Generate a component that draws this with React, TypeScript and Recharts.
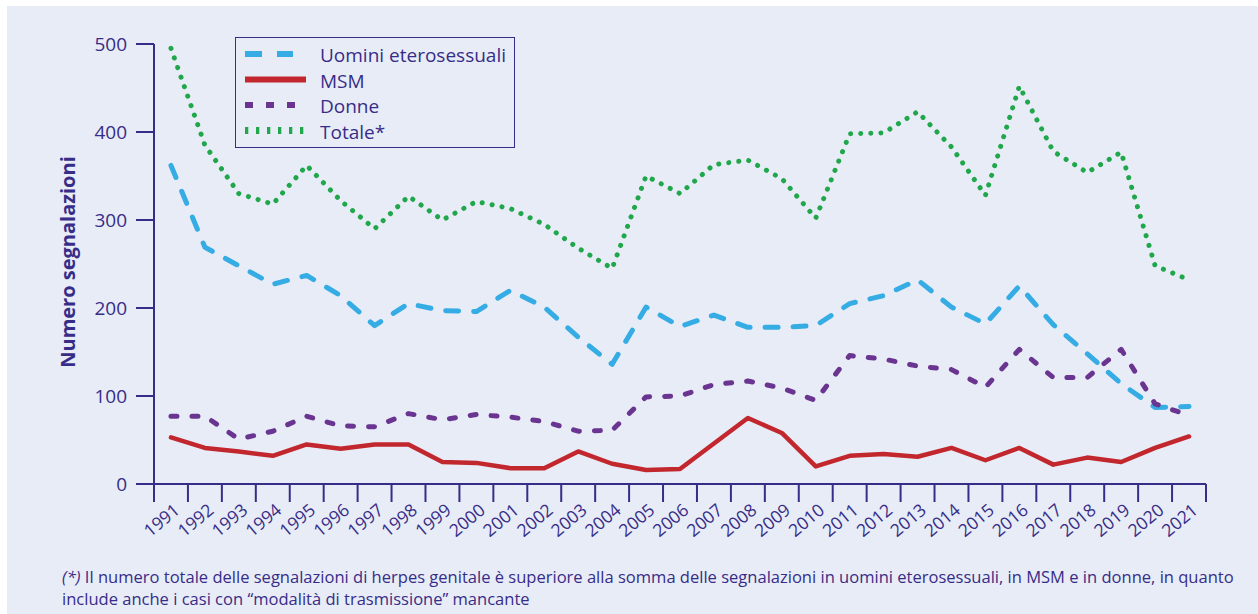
import React from 'react';
import { LineChart, Line, XAxis, YAxis, Legend } from 'recharts';

const years = [1991, 1992, 1993, 1994, 1995, 1996, 1997, 1998, 1999, 2000, 2001, 2002, 2003, 2004, 2005, 2006, 2007, 2008, 2009, 2010, 2011, 2012, 2013, 2014, 2015, 2016, 2017, 2018, 2019, 2020, 2021];
const uomini = [362, 269, 248, 227, 237, 214, 180, 205, 197, 196, 220, 201, 167, 136, 201, 179, 192, 178, 178, 180, 205, 214, 232, 201, 182, 225, 181, 148, 114, 87, 88];
const msm = [53, 41, 37, 32, 45, 40, 45, 45, 25, 24, 18, 18, 37, 23, 16, 17, 46, 75, 58, 20, 32, 34, 31, 41, 27, 41, 22, 30, 25, 41, 54];
const donne = [77, 77, 51, 60, 77, 66, 65, 80, 73, 79, 76, 71, 60, 61, 99, 100, 113, 117, 109, 95, 146, 142, 134, 130, 110, 153, 121, 121, 153, 91, 78];
const totale = [495, 385, 330, 318, 362, 322, 290, 327, 300, 321, 313, 295, 268, 245, 350, 330, 363, 368, 347, 302, 398, 399, 423, 383, 328, 452, 378, 354, 377, 248, 232];
const yTicks = [0, 100, 200, 300, 400, 500];

const seriesOrder = ['uomini', 'msm', 'donne', 'totale'];
const seriesNames: Record<string, string> = {
  uomini: 'Uomini eterosessuali',
  msm: 'MSM',
  donne: 'Donne',
  totale: 'Totale*',
};
const yLabel = 'Numero segnalazioni';
const footnoteItalic = '(*)';
const footnoteLine1 = ' Il numero totale delle segnalazioni di herpes genitale è superiore alla somma delle segnalazioni in uomini eterosessuali, in MSM e in donne, in quanto';
const footnoteLine2 = 'include anche i casi con “modalità di trasmissione” mancante';

const data = years.map((year, i) => ({
  year,
  uomini: uomini[i],
  msm: msm[i],
  donne: donne[i],
  totale: totale[i],
}));
const xBoundaries = [...years.map((y) => y - 0.5), years[years.length - 1] + 0.5];

const INK = '#372c87';
const FONT = '"Open Sans", "Noto Sans", sans-serif';

const styles: Record<string, any> = {
  uomini: { color: '#35ace3', width: 5, dash: '13 15', cap: 'round', legDash: '17 15', legEnd: 57, legW: 6 },
  msm: { color: '#c1272d', width: 4.5, dash: undefined, cap: 'round', legDash: undefined, legEnd: 70, legW: 6 },
  donne: { color: '#6a3591', width: 5, dash: '6 15', cap: 'round', legDash: '8 13', legEnd: 63, legW: 6 },
  totale: { color: '#21a74b', width: 5, dash: '0.1 10', cap: 'round', legDash: '3.3 7.7', legEnd: 70, legW: 7 },
};

const XTick = (props: any) => {
  const { x, y, payload } = props;
  const label = payload.value - 0.5;
  if (label < years[0]) return null;
  const ax = x - 7;
  const ay = y + 8;
  return (
    <text
      x={ax}
      y={ay}
      textAnchor="end"
      fill={INK}
      fontSize={17.5}
      fontFamily={FONT}
      transform={`rotate(-40, ${ax}, ${ay})`}
    >
      {label}
    </text>
  );
};

const LegendContent = (props: any) => {
  const payload = [...(props.payload || [])].sort(
    (a: any, b: any) => seriesOrder.indexOf(a.dataKey) - seriesOrder.indexOf(b.dataKey)
  );
  return (
    <div
      style={{
        width: 280,
        height: 111,
        boxSizing: 'border-box',
        border: `1.6px solid ${INK}`,
        background: 'transparent',
      }}
    >
      <svg width={278} height={108} style={{ display: 'block' }}>
        {payload.map((entry: any, i: number) => {
          const s = styles[entry.dataKey];
          const cy = 16 + i * 25.5;
          return (
            <g key={entry.dataKey}>
              <line
                x1={9}
                x2={s.legEnd}
                y1={cy}
                y2={cy}
                stroke={s.color}
                strokeWidth={s.legW}
                strokeDasharray={s.legDash}
              />
              <text x={84} y={cy + 8} fill={INK} fontSize={19} fontFamily={FONT}>
                {entry.value}
              </text>
            </g>
          );
        })}
      </svg>
    </div>
  );
};

export default function App() {
  return (
    <div
      style={{
        position: 'absolute',
        left: 0,
        top: 0,
        width: 1258,
        height: 614,
        background: '#ffffff',
        overflow: 'hidden',
        fontFamily: FONT,
      }}
    >
      <div
        style={{
          position: 'absolute',
          left: 7,
          top: 6,
          width: 1251,
          height: 608,
          background: '#e8ecf7',
        }}
      />
      <div style={{ position: 'absolute', left: 0, top: 0 }}>
        <LineChart width={1258} height={614} data={data} margin={{ top: 44, right: 52, bottom: 0, left: 0 }}>
          <XAxis
            dataKey="year"
            type="number"
            domain={[xBoundaries[0], xBoundaries[xBoundaries.length - 1]]}
            ticks={xBoundaries}
            interval={0}
            height={130}
            tickSize={18}
            tickMargin={2}
            axisLine={{ stroke: INK, strokeWidth: 2 }}
            tickLine={{ stroke: INK, strokeWidth: 2 }}
            tick={<XTick />}
            allowDecimals
          />
          <YAxis
            type="number"
            domain={[0, 500]}
            ticks={yTicks}
            interval={0}
            width={154}
            tickSize={18}
            tickMargin={9}
            axisLine={{ stroke: INK, strokeWidth: 2 }}
            tickLine={{ stroke: INK, strokeWidth: 2 }}
            tick={{ fill: INK, fontSize: 19, fontFamily: FONT }}
          />
          <Legend
            layout="vertical"
            align="center"
            verticalAlign="middle"
            itemSorter={null as any}
            content={<LegendContent />}
            wrapperStyle={{ left: 235, top: 37, width: 280, height: 111 }}
          />
          {seriesOrder.map((k) => (
            <Line
              key={k}
              dataKey={k}
              name={seriesNames[k]}
              type="linear"
              stroke={styles[k].color}
              strokeWidth={styles[k].width}
              strokeDasharray={styles[k].dash}
              strokeLinecap={styles[k].cap}
              strokeLinejoin="round"
              dot={false}
              activeDot={false}
              isAnimationActive={false}
            />
          ))}
        </LineChart>
      </div>
      <div
        style={{
          position: 'absolute',
          left: 67,
          top: 262,
          transform: 'translate(-50%, -50%) rotate(-90deg)',
          whiteSpace: 'nowrap',
          color: INK,
          fontWeight: 700,
          fontSize: 20,
          fontFamily: FONT,
        }}
      >
        {yLabel}
      </div>
      <div
        style={{
          position: 'absolute',
          left: 62,
          top: 566,
          color: INK,
          fontSize: 16.55,
          lineHeight: '22px',
          fontFamily: FONT,
          whiteSpace: 'nowrap',
        }}
      >
        <div>
          <i>{footnoteItalic}</i>
          {footnoteLine1}
        </div>
        <div>{footnoteLine2}</div>
      </div>
    </div>
  );
}
